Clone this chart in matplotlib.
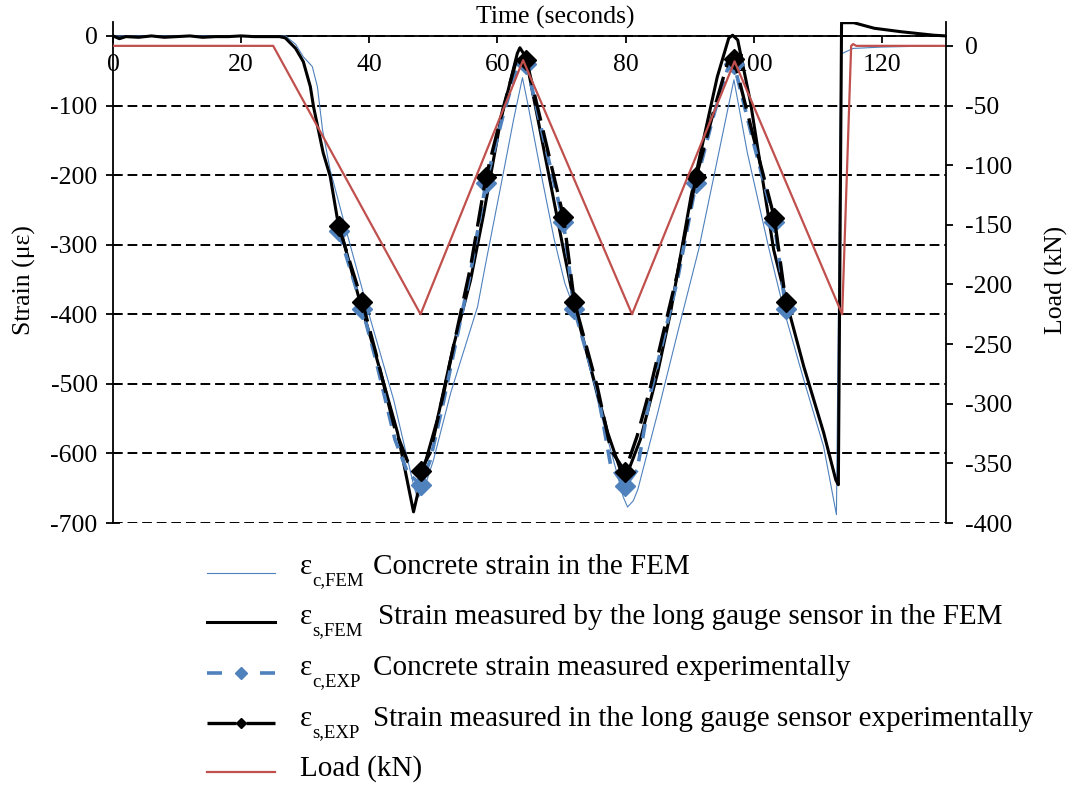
import matplotlib
matplotlib.use('Agg')
import matplotlib.pyplot as plt
from matplotlib.lines import Line2D

plt.rcParams['font.family'] = 'Liberation Serif'
plt.rcParams['axes.unicode_minus'] = False

BLUE = '#4F81BD'
RED = '#C0504D'

# Load history applied by the actuator (kN, right axis)
t_load = [0, 25, 48, 64, 81, 97, 113.8, 115.2, 115.5, 116, 130]
load = [0, 0, -225, -12, -225, -13, -225, 0, 1.5, 0, 0]

# Strain read by the long gauge sensor in the FE model (micro-strain)
t_s_fem = [0, 1, 2, 4, 6, 8, 10, 12, 14, 16, 18, 20, 22, 24, 26, 26.9, 28.5, 29.7,
           30.8, 31.3, 32.8, 33.9, 35.0, 38.6, 40.9, 44.4, 46.9, 48.4, 50.6, 53.1,
           55.8, 57.8, 60.5, 63.1, 63.5, 64.4, 70.3, 72.2, 74.5, 77.2, 79.2, 80.3,
           82.3, 85.0, 87.0, 90.2, 91.7, 94.3, 96.1, 96.7, 97.5, 99.5, 103.1, 105.3,
           107.8, 110.9, 112.8, 113.2, 113.7, 115.6, 118.8, 123.0, 128.1, 130]
s_fem = [0, -4, -1, -2, 0, -2, -1, 0, -2, -1, -1, 0, -1, -1, -1, -3, -18, -37,
         -73, -102, -168, -202, -262, -384, -455, -570, -684, -624, -552, -447,
         -351, -258, -121, -25, -17, -30, -307, -394, -475, -570, -624, -628,
         -580, -484, -398, -231, -168, -59, -3, 1, -6, -96, -307, -389,
         -475, -570, -638, -645, 19, 19, 11, 6, 1, 0]

# Concrete strain in the FE model
t_c_fem = [0, 26.9, 28.5, 29.7, 31.1, 31.9, 32.7, 33.9, 35.0, 36.5, 40.2, 43.8, 45.5,
           46.9, 47.5, 48.4, 50.0, 52.7, 56.9, 58.1, 61.0, 62.5, 63.9, 64.7, 66.7,
           68.8, 70.5, 72.5, 76.1, 78.7, 79.6, 80.3, 81.2, 81.9, 85.0, 88.1, 91.4,
           93.75, 96.9, 99.0, 102.4, 104.7, 107.8, 110.9, 112.9, 113.6, 115.5, 120,
           125, 130]
c_fem = [0, 0, -12, -30, -44, -73, -135, -193, -231, -283, -408, -523, -590,
         -645, -664, -655, -610, -513, -389, -330, -193, -121, -60, -96, -193,
         -290, -355, -405, -542, -630, -662, -677, -668, -652, -542, -427, -307,
         -203, -63, -168, -307, -394, -494, -590, -688, -26, -18, -16,
         -15, -14]

# Experimental readings (long gauge sensor and concrete gauge)
t_exp = [35.2, 38.9, 41, 44, 46, 48, 49.5, 51.6, 53.7, 55.8, 58.2, 61, 63.1, 64.5,
         67.4, 70.3, 72, 75.6, 77.7, 79.9, 81.8, 83.9, 86, 88.1, 91, 93.8, 95.9,
         96.9, 100, 103.2, 105]
s_exp = [-273, -382, -455, -565, -612, -625, -599, -513, -422, -332, -203, -100, -30,
         -34, -147, -260, -382, -505, -595, -626, -575, -504, -422, -341, -203, -106,
         -39, -33, -147, -261, -382]
c_exp = [-280, -392, -465, -580, -628, -645, -610, -525, -432, -340, -211, -110, -45,
         -40, -155, -268, -393, -510, -619, -647, -624, -513, -432, -350, -211, -112,
         -48, -40, -155, -268, -393]
marked = [0, 1, 5, 10, 13, 15, 16, 19, 24, 27, 29, 30]

x_ticks = [0, 20, 40, 60, 80, 100, 120]
strain_ticks = [0, -100, -200, -300, -400, -500, -600, -700]
load_ticks = [0, -50, -100, -150, -200, -250, -300, -350, -400]

W, H = 1073, 787
fig = plt.figure(figsize=(W / 100, H / 100), dpi=100)
ax = fig.add_axes([113 / W, 1 - 523 / H, 833 / W, 501 / H])
ax2 = ax.twinx()

ax.plot(t_c_fem, c_fem, color=BLUE, lw=0.8, zorder=3)
ax.plot(t_s_fem, s_fem, color='black', lw=2.2, zorder=4)
ax.plot(t_exp, c_exp, color=BLUE, lw=2.6, ls=(0, (4, 2.5)), marker='D', ms=10.5,
        markevery=marked, zorder=5)
ax.plot(t_exp, s_exp, color='black', lw=2.4, ls=(0, (8, 3)), marker='D', ms=10,
        markevery=marked, zorder=6)
ax2.plot(t_load, load, color=RED, lw=1.6)

ax.set_xlim(0, 130)
ax.set_ylim(-700, 20)
ax2.set_ylim(-400, 20)

ax.set_xticks(x_ticks)
ax.set_yticks(strain_ticks)
ax2.set_yticks(load_ticks)
ax.yaxis.grid(True, color='black', lw=1.4, ls=(0, (5, 2.5)))
ax.set_axisbelow(True)

for side in ['top', 'right']:
    ax.spines[side].set_visible(False)
for side in ['top', 'bottom', 'left']:
    ax2.spines[side].set_visible(False)
ax.spines['bottom'].set_position(('data', 0))
ax.spines['bottom'].set_linewidth(1.3)
ax.spines['left'].set_linewidth(1.3)
ax2.spines['right'].set_linewidth(1.3)

ax.tick_params(axis='x', direction='out', length=5, width=1.3, pad=8, labelsize=18.5)
ax.tick_params(axis='y', direction='inout', length=10, width=1.3, pad=6, labelsize=18.5)
ax2.tick_params(axis='y', direction='out', length=5, width=1.3, pad=9, labelsize=18.5)

ax.text(0.531, 1.01, 'Time (seconds)', transform=ax.transAxes, ha='center',
        va='center', fontsize=18.5)
ax.set_ylabel('Strain (με)', fontsize=18.5)
ax.yaxis.set_label_coords(-0.092, 0.485)
ax2.set_ylabel('Load (kN)', fontsize=18.5)
ax2.yaxis.set_label_coords(1.119, 0.485)

# legend drawn by hand underneath the plot
def fy(py):
    return 1 - py / H

def legend_key(py, color, lw, gap=None, ms=0):
    """Draw a legend sample line, split around a diamond when gap is given."""
    if gap is None:
        fig.add_artist(Line2D([207 / W, 275 / W], [fy(py)] * 2, color=color, lw=lw))
        return
    for x0, x1 in [(207, 241 - gap), (241 + gap, 275)]:
        fig.add_artist(Line2D([x0 / W, x1 / W], [fy(py)] * 2, color=color, lw=lw,
                              solid_capstyle='butt'))
    fig.add_artist(Line2D([241 / W], [fy(py)], color=color, marker='D', ms=ms, lw=0))

legend_rows = [
    (dict(color=BLUE, lw=0.8), 'c,FEM', 'Concrete strain in the FEM', 573, 574, 373),
    (dict(color='black', lw=2.2), 's,FEM', 'Strain measured by the long gauge sensor in the FEM',
     622, 624, 378),
    (dict(color=BLUE, lw=2.6, gap=19, ms=6.5), 'c,EXP',
     'Concrete strain measured experimentally', 673, 675, 373),
    (dict(color='black', lw=2.4, gap=5, ms=5.5), 's,EXP',
     'Strain measured in the long gauge sensor experimentally', 723, 726, 373),
]
for style, sub, desc, ly, by, dx in legend_rows:
    legend_key(ly, **style)
    fig.text(300 / W, fy(by), 'ε', fontsize=21, va='baseline')
    fig.text(312 / W, fy(by + 11), sub, fontsize=13.5, va='baseline')
    fig.text(dx / W, fy(by), desc, fontsize=21, va='baseline')

legend_key(772, RED, 1.6)
fig.text(300 / W, fy(776), 'Load (kN)', fontsize=21, va='baseline')

fig.savefig('out.png', dpi=100)
